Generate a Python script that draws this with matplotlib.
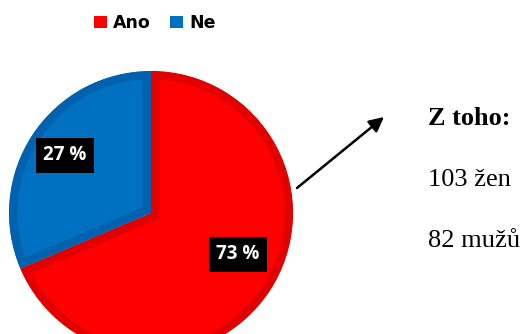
import matplotlib
matplotlib.use("Agg")
import matplotlib.pyplot as plt
from matplotlib.patches import Patch

# answers and the shares as the slices are drawn in the picture
categories = ["Ano", "Ne"]
drawn_shares = [68.6, 31.4]
pct_labels = ["73 %", "27 %"]
fill_colors = ["#FF0000", "#0070C0"]
edge_colors = ["#E00000", "#0062AE"]

note_title = "Z toho:"
note_lines = ["103 žen", "82 mužů"]

W, H = 523, 334
fig = plt.figure(figsize=(W / 100, H / 100), dpi=100)
ax = fig.add_axes([0, 0, 1, 1])

# pie, center/radius in pixel coords (y measured from bottom)
wedges, _ = ax.pie(drawn_shares, colors=fill_colors, startangle=90,
                   counterclock=False, center=(151, H - 213), radius=142,
                   wedgeprops=dict(linewidth=12, joinstyle="miter"))
ax.set_xlim(0, W)
ax.set_ylim(0, H)
ax.set_aspect("auto")
ax.axis("off")
for w, ec in zip(wedges, edge_colors):
    w.set_edgecolor(ec)
    w.set_clip_on(True)
    w.set_clip_path(w)  # inner half of stroke only

# percentage labels
label_pos = [(238, 254), (65, 155)]
for (x, y), txt in zip(label_pos, pct_labels):
    ax.text(x, H - y, txt, ha="center", va="center", color="white",
            fontsize=13.5, fontweight="bold", family="Open Sans",
            bbox=dict(boxstyle="square,pad=0.4", fc="black", ec="none"))

# legend
handles = [Patch(facecolor=c, edgecolor="none") for c in fill_colors]
fig.legend(handles, categories, loc="center", bbox_to_anchor=(155 / W, 1 - 23 / H),
           ncol=2, frameon=False, handlelength=0.75, handleheight=0.75,
           handletextpad=0.35, columnspacing=1.1,
           prop=dict(family="DejaVu Sans", weight="bold", size=12.5))

# arrow and note
ax.annotate("", xy=(384, H - 117), xytext=(297, H - 188),
            arrowprops=dict(arrowstyle="-|>", color="black", lw=1.8,
                            mutation_scale=22, shrinkA=0, shrinkB=0))
ax.text(428, H - 125, note_title, ha="left", va="baseline", fontsize=19,
        fontweight="bold", family="Liberation Serif")
for i, line in enumerate(note_lines):
    ax.text(428, H - (186 + 61 * i), line, ha="left", va="baseline",
            fontsize=19, family="Liberation Serif")

fig.savefig("out.png", dpi=100)
